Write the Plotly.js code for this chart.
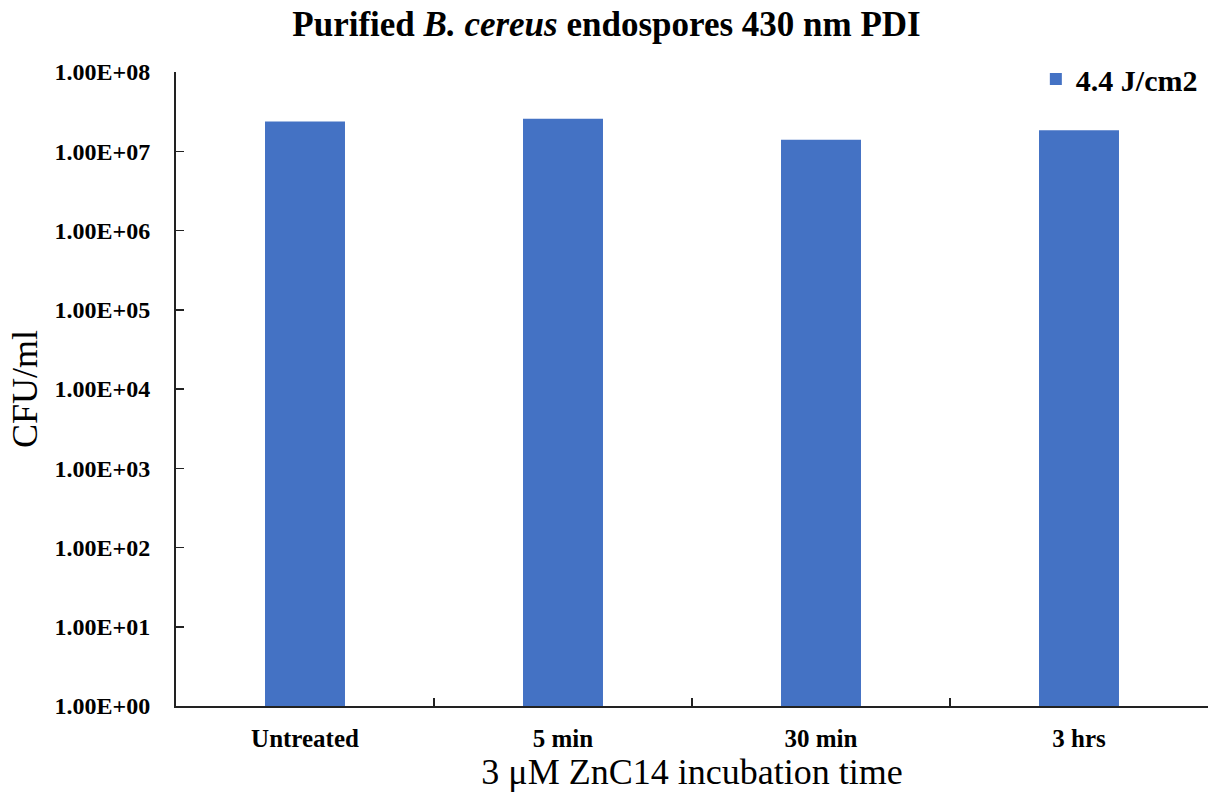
<!DOCTYPE html>
<html>
<head>
<meta charset="utf-8">
<script src="https://cdn.plot.ly/plotly-3.0.1.min.js"></script>
<style>html,body{margin:0;padding:0;background:#fff;}#chart{width:1213px;height:797px;}</style>
</head>
<body>
<div id="chart"></div>
<script>
const categories = ["Untreated", "5 min", "30 min", "3 hrs"];
const cfuValues = [2.38e7, 2.57e7, 1.40e7, 1.84e7];
const seriesName = "4.4 J/cm2";
const yTickVals = [1, 10, 100, 1000, 10000, 100000, 1000000, 10000000, 100000000];
const yTickText = ["1.00E+00", "1.00E+01", "1.00E+02", "1.00E+03", "1.00E+04", "1.00E+05", "1.00E+06", "1.00E+07", "1.00E+08"];

const serif = "Liberation Serif, Times New Roman, serif";

const data = [{
  type: "bar",
  x: categories,
  y: cfuValues,
  name: seriesName,
  width: 0.31,
  marker: {color: "#4472C4"},
  showlegend: true
}];

const layout = {
  width: 1213,
  height: 797,
  margin: {l: 176, r: 5, t: 72, b: 91},
  paper_bgcolor: "#fff",
  plot_bgcolor: "#fff",
  font: {family: serif, color: "#000"},
  title: {
    text: "<b>Purified <i>B. cereus</i> endospores 430 nm PDI</b>",
    font: {family: serif, size: 35, color: "#000"},
    xref: "container", x: 0.5, xanchor: "center",
    yref: "container", y: 0.97, yanchor: "middle"
  },
  xaxis: {
    type: "category",
    showline: true, linecolor: "#222", linewidth: 2,
    ticks: "inside", tickson: "boundaries", ticklen: 8, tickcolor: "#222", tickwidth: 1.5,
    tickfont: {family: serif, size: 25, color: "#000", weight: "bold"},
    ticklabelstandoff: 9,
    showgrid: false, zeroline: false,
    title: {text: "3 μM ZnC14 incubation time", font: {family: serif, size: 36, color: "#000"}, standoff: 8}
  },
  yaxis: {
    type: "log",
    range: [0, 8],
    tickmode: "array",
    tickvals: yTickVals,
    ticktext: yTickText,
    showline: true, linecolor: "#222", linewidth: 2,
    ticks: "inside", ticklen: 8, tickcolor: "#222", tickwidth: 1.5,
    tickfont: {family: serif, size: 24, color: "#000", weight: "bold"},
    ticklabelstandoff: 19,
    showgrid: false, zeroline: false,
    title: {text: "CFU/ml", font: {family: serif, size: 36, color: "#000"}, standoff: 6}
  },
  legend: {
    x: 0.995, xanchor: "right", y: 1.03, yanchor: "top",
    font: {family: serif, size: 30, color: "#000", weight: "bold"},
    bgcolor: "rgba(0,0,0,0)"
  },
  bargap: 0.69
};

Plotly.newPlot("chart", data, layout, {displayModeBar: false, staticPlot: true});
</script>
</body>
</html>
